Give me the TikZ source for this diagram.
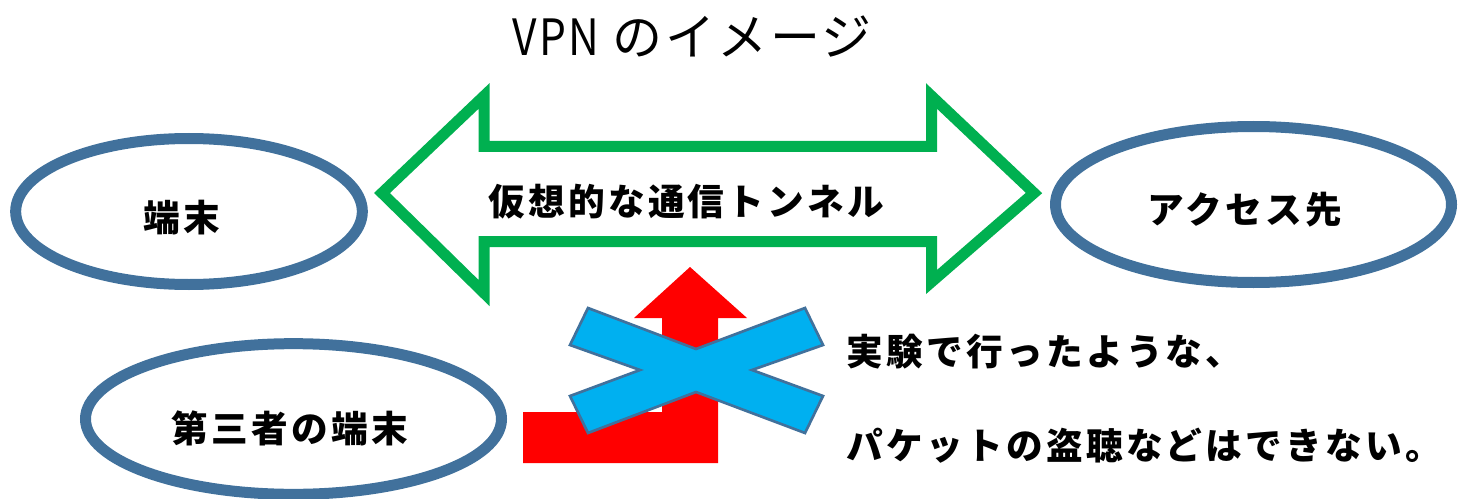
\documentclass[tikz,border=0pt]{standalone}
\usepackage{fontspec}
\usepackage{graphicx}
\usetikzlibrary{shapes.geometric}
\newfontfamily\jpfont{Noto Sans CJK JP}[LetterSpace=5]
\newfontfamily\jpsp{Noto Sans CJK JP}[LetterSpace=9]
\definecolor{ebord}{RGB}{65,113,156}
\definecolor{tgreen}{RGB}{0,176,80}
\definecolor{xblue}{RGB}{0,176,240}
\tikzset{
  oval/.style={draw=ebord, line width=8.25pt, ellipse, inner sep=0pt},
  lbl/.style={font=\jpsp\bfseries\fontsize{27.5}{27.5}\selectfont, inner sep=0pt},
  note/.style={font=\jpsp\bfseries\fontsize{27.5}{27.5}\selectfont, inner sep=0pt, anchor=west},
}
\begin{document}
\begin{tikzpicture}[x=0.75pt,y=-0.75pt]
\useasboundingbox (0,0) rectangle (1462,499);
% title
\node[font=\jpfont\fontsize{37.5}{37.5}\selectfont, inner sep=0pt] (title) at (692,37) {\scalebox{0.85}[1]{VPN} のイメージ};
% tunnel arrow
\draw[tgreen, line width=8.25pt, line join=miter]
  (382,193) -- (484,96) -- (484,146.5) -- (931.5,146.5) -- (931.5,96) -- (1034,193)
  -- (931.5,282) -- (931.5,241.5) -- (484,241.5) -- (484,293) -- cycle;
\node[lbl] (tun) at (686,202) {仮想的な通信トンネル};
% ellipses
\node[oval, minimum width=260pt, minimum height=109.5pt] (e1) at (189,211.5) {};
\node[lbl] (t1) at (182,218) {端末};
\node[oval, minimum width=297pt, minimum height=117pt] (e2) at (1253.5,204.5) {};
\node[lbl] (t2) at (1245,210) {アクセス先};
\node[oval, minimum width=312pt, minimum height=113pt] (e3) at (293.5,419) {};
\node[lbl] (t3) at (290,428) {第三者の端末};
% red bent arrow
\fill[red] (523,463) -- (718,463) -- (718,318) -- (747,318) -- (690,267) -- (634,318)
  -- (662,318) -- (662,412) -- (523,412) -- cycle;
% blue cross
\draw[ebord, fill=xblue, line width=2pt, line join=miter]
  (588,308) -- (696,349) -- (805,308) -- (823,345) -- (752,370) -- (823,396)
  -- (805,433) -- (696,392) -- (588,433) -- (570,396) -- (640,370) -- (570,345) -- cycle;
% notes
\node[note] (n1) at (846,352) {実験で行ったような、};
\node[note] (n2) at (846,446) {パケットの盗聴などはできない。};
\end{tikzpicture}
\end{document}
